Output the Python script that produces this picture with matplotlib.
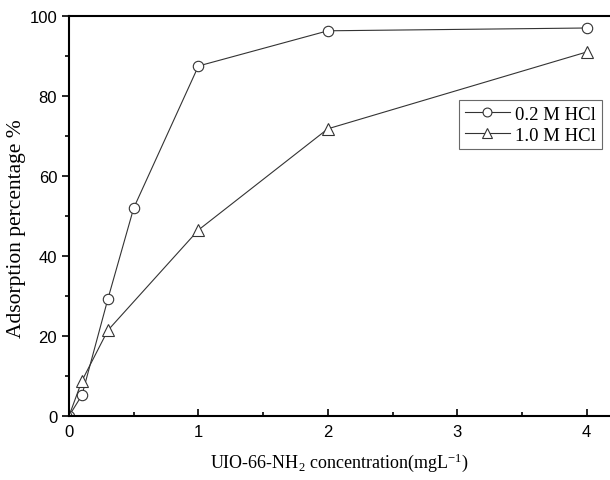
import matplotlib
matplotlib.use("Agg")
import matplotlib.pyplot as plt
from matplotlib.ticker import MultipleLocator

plt.rcParams["mathtext.default"] = "regular"

x_02 = [0, 0.1, 0.3, 0.5, 1, 2, 4]
y_02 = [0, 5.2, 29.2, 52.0, 87.5, 96.3, 97.0]
x_10 = [0, 0.1, 0.3, 1, 2, 4]
y_10 = [0, 8.8, 21.4, 46.5, 71.8, 91.0]
labels = ["0.2 M HCl", "1.0 M HCl"]

fig = plt.figure(figsize=(6.10, 4.81), dpi=100)
ax = fig.add_axes([69/610, 1-417/481, 1-69/610, 400/481])

ax.plot(x_02, y_02, color="#333333", lw=0.8, marker="o", ms=7.5, mfc="white", mec="#333333", mew=0.8, label=labels[0])
ax.plot(x_10, y_10, color="#333333", lw=0.8, marker="^", ms=8.5, mfc="white", mec="#333333", mew=0.8, label=labels[1])

ax.set_xlim(0, 4.18)
ax.set_ylim(0, 100)
ax.xaxis.set_major_locator(MultipleLocator(1))
ax.xaxis.set_minor_locator(MultipleLocator(0.5))
ax.yaxis.set_major_locator(MultipleLocator(20))
ax.yaxis.set_minor_locator(MultipleLocator(10))
ax.tick_params(axis="x", which="both", direction="in", width=1.2)
ax.tick_params(axis="x", which="major", length=5)
ax.tick_params(axis="x", which="minor", length=3)
ax.tick_params(axis="y", which="both", direction="out", width=1.2)
ax.tick_params(axis="y", which="major", length=5)
ax.tick_params(axis="y", which="minor", length=3)
for lab in ax.get_xticklabels() + ax.get_yticklabels():
    lab.set_fontfamily("Liberation Sans")
    lab.set_fontsize(12)
ax.tick_params(axis="x", pad=6)

ax.spines["right"].set_visible(False)
for s in ["left", "bottom", "top"]:
    ax.spines[s].set_linewidth(1.5)

ax.set_xlabel("UIO-66-NH$_{2}$ concentration(mgL$^{-1}$)", fontfamily="Liberation Serif", fontsize=13, labelpad=8)
ax.set_ylabel("Adsorption percentage %", fontfamily="Liberation Serif", fontsize=15.5, va="center")
ax.yaxis.set_label_coords(-0.097, 0.47)

leg = ax.legend(loc="upper right", bbox_to_anchor=(0.985, 0.79), prop={"family": "Liberation Serif", "size": 13.5},
                frameon=True, fancybox=False, edgecolor="#444444", handlelength=2.4, borderpad=0.3,
                labelspacing=0.2, handletextpad=0.3, borderaxespad=0, markerscale=0.85)
leg.get_frame().set_linewidth(0.8)

fig.savefig("out.png", dpi=100)
